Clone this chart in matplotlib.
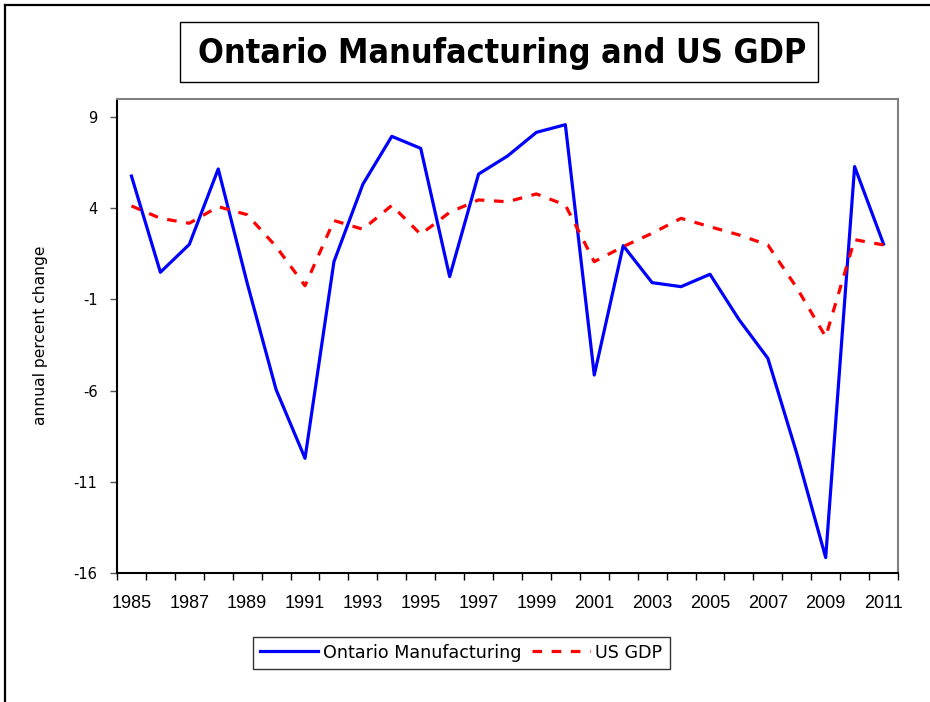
import numpy as np
import matplotlib
matplotlib.use("Agg")
import matplotlib.pyplot as plt
from matplotlib.patches import Rectangle
from matplotlib.lines import Line2D

years = list(range(1985, 2012))
ontario_mfg = [5.77, 0.49, 2.02, 6.16, -0.1, -5.95, -9.72, 1.07, 5.32, 7.95,
               7.29, 0.25, 5.88, 6.87, 8.17, 8.59, -5.15, 1.95, -0.08, -0.3,
               0.38, -2.1, -4.23, -9.45, -15.17, 6.29, 2.04]
us_gdp = [4.13, 3.45, 3.18, 4.09, 3.65, 1.9, -0.25, 3.33, 2.85, 4.16,
          2.57, 3.78, 4.46, 4.36, 4.79, 4.18, 1.07, 1.9, 2.63, 3.45,
          2.99, 2.54, 1.99, -0.36, -3.05, 2.28, 1.99]
y_ticks = [-16, -11, -6, -1, 4, 9]

W, H = 930, 702
fig = plt.figure(figsize=(W / 100, H / 100), dpi=100)

# outer chart border (only top and left are visible in the crop)
fig.add_artist(Line2D([5 / W, 1.0], [1 - 5 / H, 1 - 5 / H], color="black", lw=1.6))
fig.add_artist(Line2D([5 / W, 5 / W], [0.0, 1 - 5 / H], color="black", lw=1.6))

# title in a box
fig.add_artist(Rectangle((180 / W, 1 - 82 / H), 638 / W, 60 / H, transform=fig.transFigure,
                         facecolor="white", edgecolor="black", lw=1.0))
fig.text(502 / W, 1 - 53 / H, "Ontario Manufacturing and US GDP", ha="center", va="center",
         fontsize=24.5, fontweight="bold", family="DejaVu Sans", fontstretch="condensed")

ax = fig.add_axes([117 / W, (H - 572.7) / H, 781 / W, 473.7 / H])
x = np.arange(len(years))
ax.plot(x, ontario_mfg, color="#0000ff", lw=2.3, label="Ontario Manufacturing", zorder=3)
ax.plot(x, us_gdp, color="#ff0000", lw=2.3, dashes=(3, 3), label="US GDP", zorder=4)

ax.set_xlim(-0.5, len(years) - 0.5)
ax.set_ylim(-16, 10)
ax.set_yticks(y_ticks)
ax.set_yticklabels([str(v) for v in y_ticks], family="DejaVu Sans", fontsize=10.5)

ax.set_xticks(np.arange(-0.5, len(years), 1))
ax.set_xticklabels([])
ax.set_xticks(x[::2], minor=True)
ax.set_xticklabels([str(y) for y in years[::2]], minor=True,
                   family=["Liberation Sans Narrow", "Liberation Sans"], fontsize=13)
ax.tick_params(axis="x", which="major", direction="out", length=5, width=1, color="black")
ax.tick_params(axis="x", which="minor", length=0, pad=16)
ax.tick_params(axis="y", direction="out", length=5, width=1, color="#555555", pad=9)

for side in ["left", "bottom"]:
    ax.spines[side].set_color("black")
    ax.spines[side].set_linewidth(1.5)
for side in ["top", "right"]:
    ax.spines[side].set_color("#808080")
    ax.spines[side].set_linewidth(1.5)

fig.text(40 / W, 1 - 335 / H, "annual percent change", rotation=90, ha="center", va="center",
         fontsize=11.2, family="DejaVu Sans")

leg = fig.legend(loc="center", bbox_to_anchor=(461.5 / W, 1 - 652.5 / H), ncol=2,
                 prop={"family": "DejaVu Sans", "size": 12.6}, frameon=True, fancybox=False,
                 handlelength=3.3, handletextpad=0.3, columnspacing=0.6, borderpad=0.4,
                 borderaxespad=0)
leg.get_frame().set_edgecolor("black")
leg.get_frame().set_linewidth(1.0)

fig.savefig("out.png", dpi=100)
